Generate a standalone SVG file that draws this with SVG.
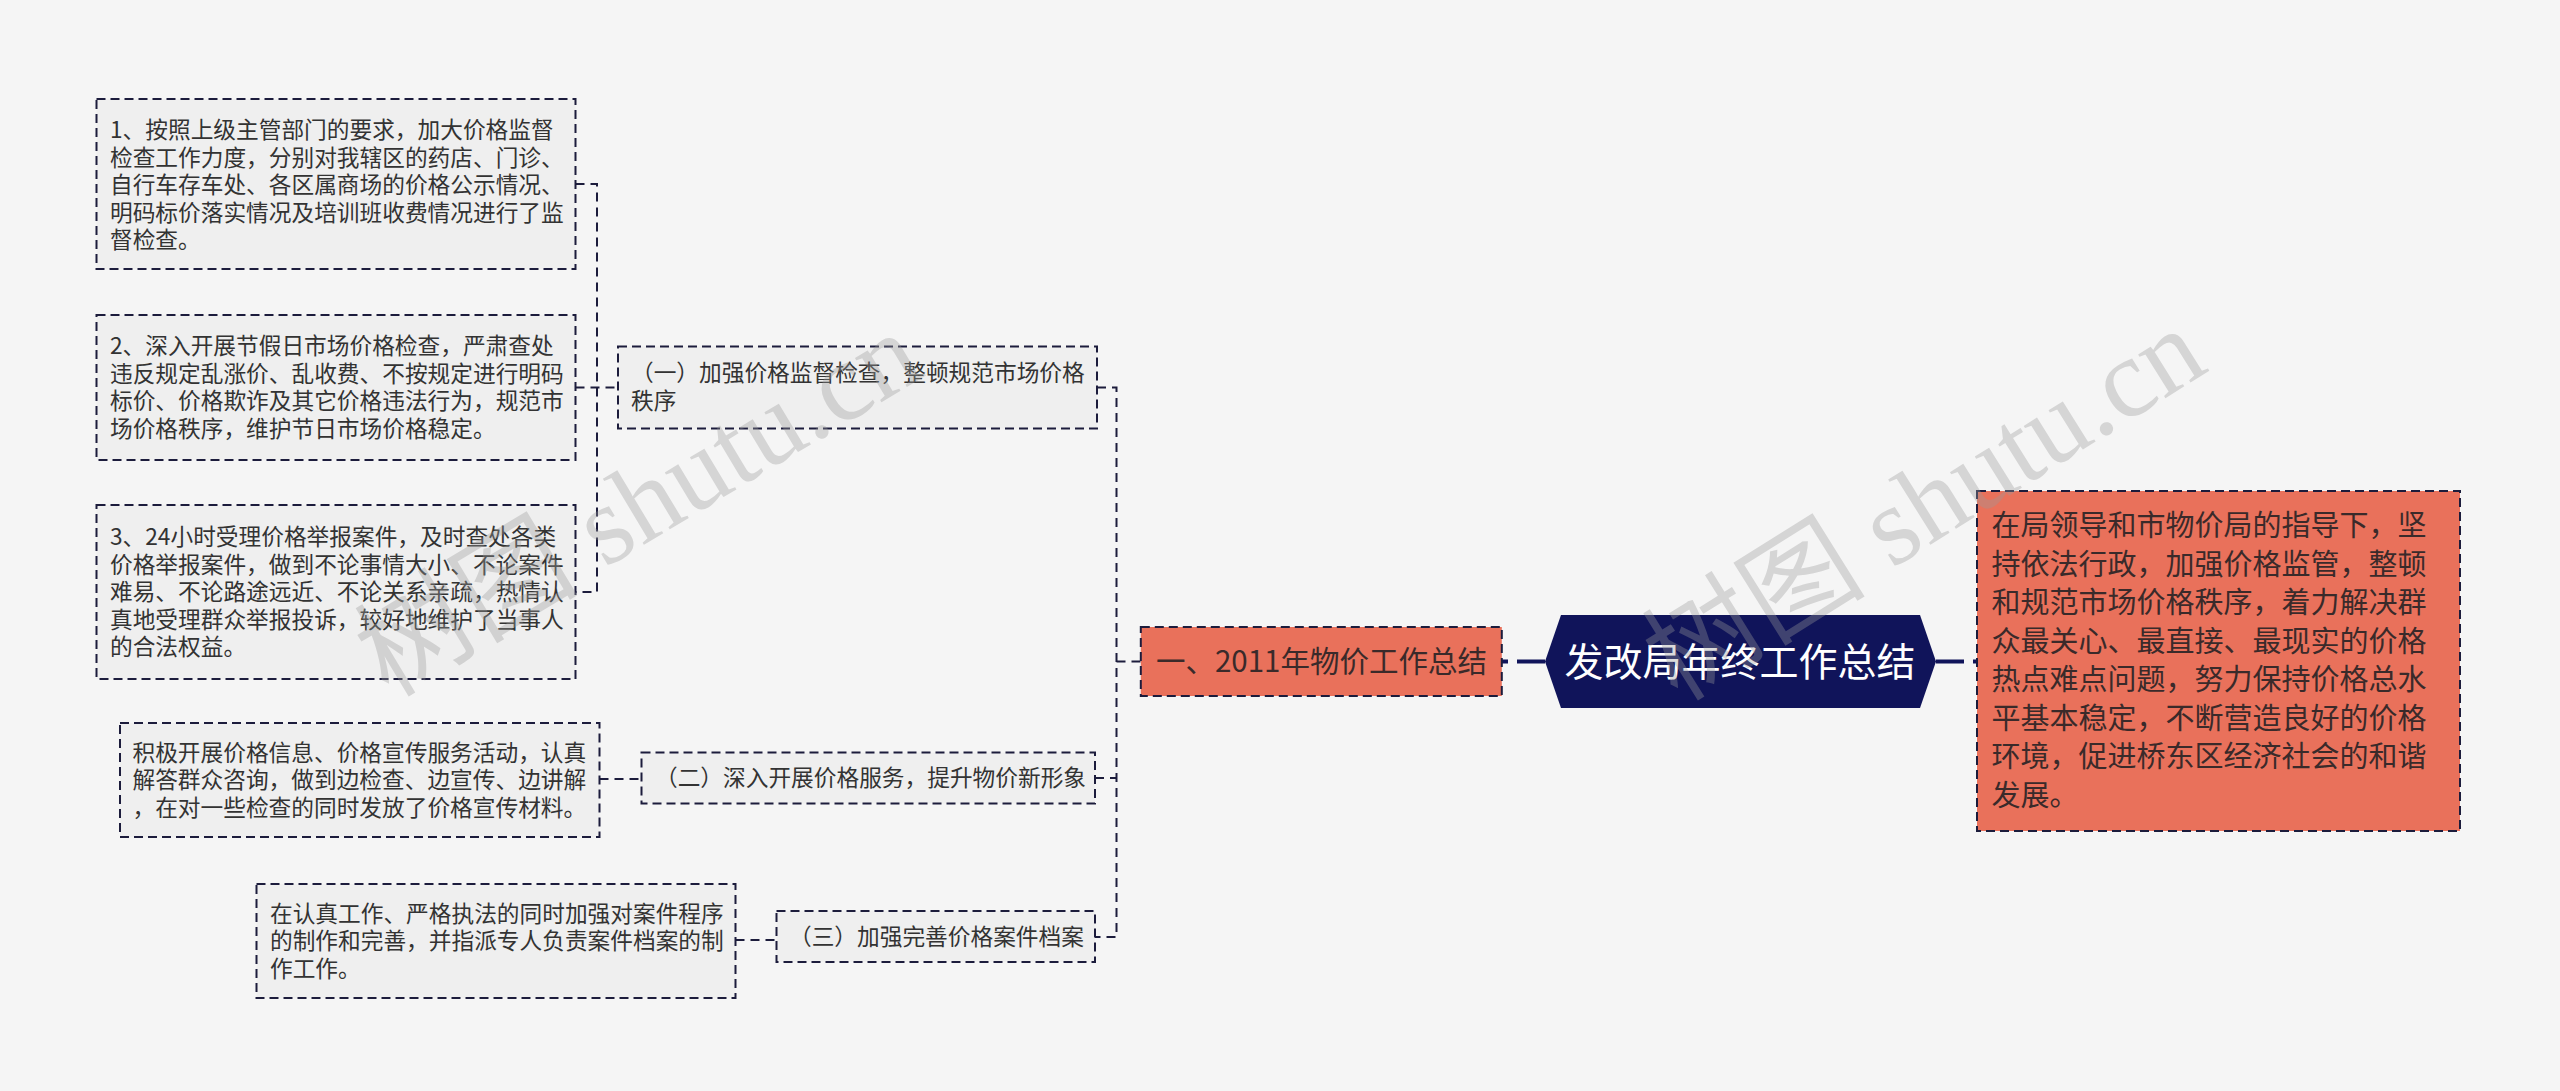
<svg xmlns="http://www.w3.org/2000/svg" width="2560" height="1091" viewBox="0 0 2560 1091">
<style>
.bg{fill:#f5f5f5}
.box{fill:#efefef;stroke:#1c1c3c;stroke-width:2;stroke-dasharray:9 5}
.obox{fill:#e9715b;stroke:#1c1c3c;stroke-width:2;stroke-dasharray:9 5}
.t{font-family:"Noto Sans CJK SC","Noto Sans",sans-serif;font-size:22.7px;fill:#333333}
.ot{font-family:"Noto Sans CJK SC","Noto Sans",sans-serif;fill:#3a2a2a}
.conn{fill:none;stroke:#1c1c3c;stroke-width:2;stroke-dasharray:9 6}
.thick{fill:none;stroke:#10145a;stroke-width:4;stroke-dasharray:28 9}
.wm{font-family:"Liberation Serif","Noto Sans CJK SC",serif;font-size:112px;fill:#9a9a9a;opacity:0.35}
</style>
<rect class="bg" x="0" y="0" width="2560" height="1091"/>
<g id="connectors">
<path class="conn" d="M575.5 184 H597 V592 H575.5 M575.5 387.5 H618"/>
<path class="conn" d="M1097 387.5 H1116.5 V937 H1095 M1095 778 H1116.5 M1116.5 661.5 H1140.8"/>
<path class="conn" d="M599.5 779 H641.5"/>
<path class="conn" d="M735.5 940 H776.5"/>
<path class="thick" d="M1545 661.5 H1502"/>
<path class="thick" d="M1936 661.5 H1977"/>
</g>
<g id="n1">
<rect class="box" x="96.5" y="99" width="479" height="170"/>
<text class="t"><tspan x="110" y="138">1、按照上级主管部门的要求，加大价格监督</tspan><tspan x="110" y="165.5">检查工作力度，分别对我辖区的药店、门诊、</tspan><tspan x="110" y="193">自行车存车处、各区属商场的价格公示情况、</tspan><tspan x="110" y="220.5">明码标价落实情况及培训班收费情况进行了监</tspan><tspan x="110" y="248">督检查。</tspan></text>
</g>
<g id="n2">
<rect class="box" x="96.5" y="315" width="479" height="145"/>
<text class="t"><tspan x="110" y="354">2、深入开展节假日市场价格检查，严肃查处</tspan><tspan x="110" y="381.5">违反规定乱涨价、乱收费、不按规定进行明码</tspan><tspan x="110" y="409">标价、价格欺诈及其它价格违法行为，规范市</tspan><tspan x="110" y="436.5">场价格秩序，维护节日市场价格稳定。</tspan></text>
</g>
<g id="n3">
<rect class="box" x="96.5" y="505" width="479" height="174"/>
<text class="t"><tspan x="110" y="545">3、24小时受理价格举报案件，及时查处各类</tspan><tspan x="110" y="572.5">价格举报案件，做到不论事情大小、不论案件</tspan><tspan x="110" y="600">难易、不论路途远近、不论关系亲疏，热情认</tspan><tspan x="110" y="627.5">真地受理群众举报投诉，较好地维护了当事人</tspan><tspan x="110" y="655">的合法权益。</tspan></text>
</g>
<g id="n4">
<rect class="box" x="120" y="723" width="479.5" height="114"/>
<text class="t"><tspan x="132.5" y="760.5">积极开展价格信息、价格宣传服务活动，认真</tspan><tspan x="132.5" y="788">解答群众咨询，做到边检查、边宣传、边讲解</tspan><tspan x="132.5" y="815.5">，在对一些检查的同时发放了价格宣传材料。</tspan></text>
</g>
<g id="n5">
<rect class="box" x="256.5" y="884" width="479" height="114"/>
<text class="t"><tspan x="270" y="921.5">在认真工作、严格执法的同时加强对案件程序</tspan><tspan x="270" y="949">的制作和完善，并指派专人负责案件档案的制</tspan><tspan x="270" y="976.5">作工作。</tspan></text>
</g>
<g id="b1">
<rect class="box" x="618" y="346.5" width="479" height="82"/>
<text class="t"><tspan x="631" y="381">（一）加强价格监督检查，整顿规范市场价格</tspan><tspan x="631" y="408.5">秩序</tspan></text>
</g>
<g id="b2">
<rect class="box" x="641.5" y="752.5" width="453.5" height="51"/>
<text class="t" x="655" y="786">（二）深入开展价格服务，提升物价新形象</text>
</g>
<g id="b3">
<rect class="box" x="776.5" y="911" width="318.5" height="51"/>
<text class="t" x="789" y="944.5">（三）加强完善价格案件档案</text>
</g>
<g id="main1">
<rect class="obox" x="1140.8" y="627" width="361" height="69"/>
<text class="ot" x="1156" y="672" font-size="29.5">一、2011年物价工作总结</text>
</g>
<g id="root">
<polygon points="1545,661.5 1561,615 1920,615 1936,661.5 1920,708 1561,708" fill="#10145a"/>
<text x="1740" y="675.5" text-anchor="middle" font-family="Noto Sans CJK SC, Noto Sans, sans-serif" font-size="39" fill="#ffffff">发改局年终工作总结</text>
</g>
<g id="summary">
<rect class="obox" x="1977" y="491" width="483" height="340"/>
<text class="ot" font-size="29"><tspan x="1991.5" y="536">在局领导和市物价局的指导下，坚</tspan><tspan x="1991.5" y="574.5">持依法行政，加强价格监管，整顿</tspan><tspan x="1991.5" y="613">和规范市场价格秩序，着力解决群</tspan><tspan x="1991.5" y="651.5">众最关心、最直接、最现实的价格</tspan><tspan x="1991.5" y="690">热点难点问题，努力保持价格总水</tspan><tspan x="1991.5" y="728.5">平基本稳定，不断营造良好的价格</tspan><tspan x="1991.5" y="767">环境，促进桥东区经济社会的和谐</tspan><tspan x="1991.5" y="805.5">发展。</tspan></text>
</g>
<g id="watermarks">
<text class="wm" x="645" y="540" text-anchor="middle" transform="rotate(-31 645 515)">树图 shutu.cn</text>
<text class="wm" x="1931" y="540" text-anchor="middle" transform="rotate(-32 1931 515)">树图 shutu.cn</text>
</g>
</svg>
